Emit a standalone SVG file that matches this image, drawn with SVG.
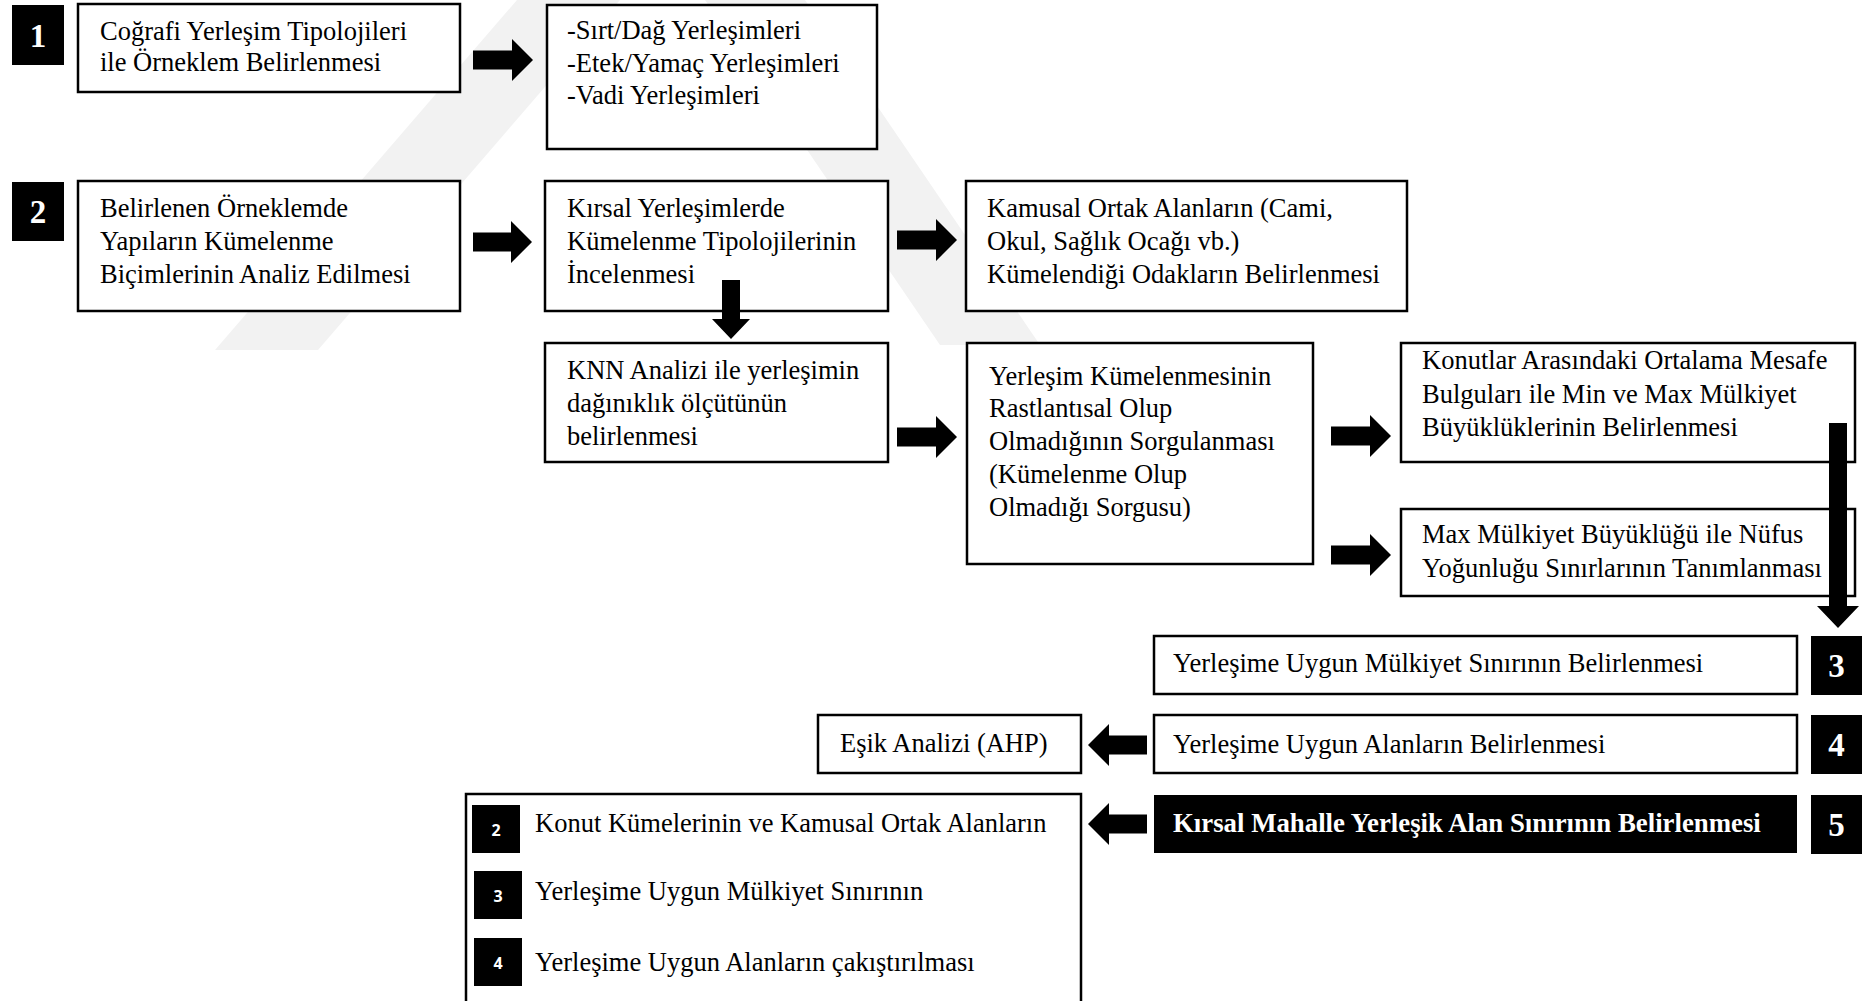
<svg xmlns="http://www.w3.org/2000/svg" width="1868" height="1001" viewBox="0 0 1868 1001">
<style>
  .box { fill: #ffffff; stroke: #000000; stroke-width: 2.5; }
  .num { fill: #000000; }
  .t { font-family: "Liberation Serif", "Times New Roman", serif; font-size: 26.5px; fill: #000000; }
  .tw { font-family: "Liberation Serif", "Times New Roman", serif; font-size: 26.8px; fill: #ffffff; font-weight: bold; }
  .n { font-family: "Liberation Serif", "Times New Roman", serif; font-size: 33px; fill: #ffffff; font-weight: bold; text-anchor: middle; }
  .ns { font-family: "Open Sans", "Liberation Sans", sans-serif; font-size: 16px; fill: #ffffff; font-weight: bold; text-anchor: middle; }
  .arr { fill: #000000; }
  .wm { fill: #f2f2f2; }
</style>
<rect x="0" y="0" width="1868" height="1001" fill="#ffffff"/>
<g id="watermark">
  <polygon class="wm" points="215,350 318,350 620,0 517,0"/>
  <polygon class="wm" points="705,0 805,0 1040,345 940,345"/>
</g>

<g id="n1"><rect class="num" x="12" y="5" width="52" height="60"/><text class="n" x="38" y="47">1</text></g>
<g id="box1"><rect class="box" x="78" y="4" width="382" height="88"/>
  <text class="t" x="100" y="40">Coğrafi Yerleşim Tipolojileri</text>
  <text class="t" x="100" y="71">ile Örneklem Belirlenmesi</text></g>
<g id="box-sirt"><rect class="box" x="547" y="5" width="330" height="144"/>
  <text class="t" x="567" y="39">-Sırt/Dağ Yerleşimleri</text>
  <text class="t" x="567" y="72">-Etek/Yamaç Yerleşimleri</text>
  <text class="t" x="567" y="104">-Vadi Yerleşimleri</text></g>

<g id="n2"><rect class="num" x="12" y="182" width="52" height="59"/><text class="n" x="38" y="223">2</text></g>
<g id="box2"><rect class="box" x="78" y="181" width="382" height="130"/>
  <text class="t" x="100" y="217">Belirlenen Örneklemde</text>
  <text class="t" x="100" y="250">Yapıların Kümelenme</text>
  <text class="t" x="100" y="283">Biçimlerinin Analiz Edilmesi</text></g>
<g id="box-kirsal"><rect class="box" x="545" y="181" width="343" height="130"/>
  <text class="t" x="567" y="217">Kırsal Yerleşimlerde</text>
  <text class="t" x="567" y="250">Kümelenme Tipolojilerinin</text>
  <text class="t" x="567" y="283">İncelenmesi</text></g>
<g id="box-kamusal"><rect class="box" x="966" y="181" width="441" height="130"/>
  <text class="t" x="987" y="217">Kamusal Ortak Alanların (Cami,</text>
  <text class="t" x="987" y="250">Okul, Sağlık Ocağı vb.)</text>
  <text class="t" x="987" y="283">Kümelendiği Odakların Belirlenmesi</text></g>

<g id="box-knn"><rect class="box" x="545" y="343" width="343" height="119"/>
  <text class="t" x="567" y="379">KNN Analizi ile yerleşimin</text>
  <text class="t" x="567" y="412">dağınıklık ölçütünün</text>
  <text class="t" x="567" y="445">belirlenmesi</text></g>
<g id="box-rastlantisal"><rect class="box" x="967" y="343" width="346" height="221"/>
  <text class="t" x="989" y="385">Yerleşim Kümelenmesinin</text>
  <text class="t" x="989" y="417">Rastlantısal Olup</text>
  <text class="t" x="989" y="450">Olmadığının Sorgulanması</text>
  <text class="t" x="989" y="483">(Kümelenme Olup</text>
  <text class="t" x="989" y="516">Olmadığı Sorgusu)</text></g>
<g id="box-konutlar"><rect class="box" x="1401" y="343" width="454" height="119"/>
  <text class="t" x="1422" y="369">Konutlar Arasındaki Ortalama Mesafe</text>
  <text class="t" x="1422" y="403">Bulguları ile Min ve Max Mülkiyet</text>
  <text class="t" x="1422" y="436">Büyüklüklerinin Belirlenmesi</text></g>
<g id="box-max"><rect class="box" x="1401" y="509" width="454" height="87"/>
  <text class="t" x="1422" y="543">Max Mülkiyet Büyüklüğü ile Nüfus</text>
  <text class="t" x="1422" y="577">Yoğunluğu Sınırlarının Tanımlanması</text></g>

<g id="box-mulkiyet"><rect class="box" x="1154" y="636" width="643" height="58"/>
  <text class="t" x="1173" y="672">Yerleşime Uygun Mülkiyet Sınırının Belirlenmesi</text></g>
<g id="n3"><rect class="num" x="1811" y="636" width="51" height="59"/><text class="n" x="1836.5" y="677">3</text></g>

<g id="box-esik"><rect class="box" x="818" y="715" width="263" height="58"/>
  <text class="t" x="840" y="752">Eşik Analizi (AHP)</text></g>
<g id="box-alanlar"><rect class="box" x="1154" y="715" width="643" height="58"/>
  <text class="t" x="1173" y="753">Yerleşime Uygun Alanların Belirlenmesi</text></g>
<g id="n4"><rect class="num" x="1811" y="715" width="51" height="59"/><text class="n" x="1836.5" y="756">4</text></g>

<g id="box-sinir"><rect x="1154" y="795" width="643" height="58" fill="#000000"/>
  <text class="tw" x="1173" y="832">Kırsal Mahalle Yerleşik Alan Sınırının Belirlenmesi</text></g>
<g id="n5"><rect class="num" x="1811" y="795" width="51" height="59"/><text class="n" x="1836.5" y="836">5</text></g>

<g id="box-cakistirma"><rect class="box" x="466" y="794" width="615" height="220"/>
  <rect class="num" x="472" y="805" width="48" height="48"/><text class="ns" x="496" y="836">2</text>
  <text class="t" x="535" y="832">Konut Kümelerinin ve Kamusal Ortak Alanların</text>
  <rect class="num" x="474" y="871" width="48" height="48"/><text class="ns" x="498" y="902">3</text>
  <text class="t" x="535" y="900">Yerleşime Uygun Mülkiyet Sınırının</text>
  <rect class="num" x="474" y="938" width="48" height="48"/><text class="ns" x="498" y="969">4</text>
  <text class="t" x="535" y="971">Yerleşime Uygun Alanların çakıştırılması</text></g>

<g id="connectors">
  <polygon class="arr" points="473,50.5 512,50.5 512,39 533,60 512,81 512,69.5 473,69.5"/>
  <polygon class="arr" points="473,232.5 511,232.5 511,221 532,242 511,263 511,251.5 473,251.5"/>
  <polygon class="arr" points="897,230.5 936,230.5 936,219 957,240 936,261 936,249.5 897,249.5"/>
  <polygon class="arr" points="722,280 740,280 740,319 750,319 731,339 712,319 722,319"/>
  <polygon class="arr" points="897,427.5 936,427.5 936,416 957,437 936,458 936,446.5 897,446.5"/>
  <polygon class="arr" points="1331,426.5 1370,426.5 1370,415 1391,436 1370,457 1370,445.5 1331,445.5"/>
  <polygon class="arr" points="1331,545.5 1370,545.5 1370,534 1391,555 1370,576 1370,564.5 1331,564.5"/>
  <polygon class="arr" points="1829,423 1847,423 1847,606 1859,606 1838,628 1817,606 1829,606"/>
  <polygon class="arr" points="1147,735.5 1109,735.5 1109,724 1088,745 1109,766 1109,754.5 1147,754.5"/>
  <polygon class="arr" points="1147,814.5 1109,814.5 1109,803 1088,824 1109,845 1109,833.5 1147,833.5"/>
</g>
</svg>
